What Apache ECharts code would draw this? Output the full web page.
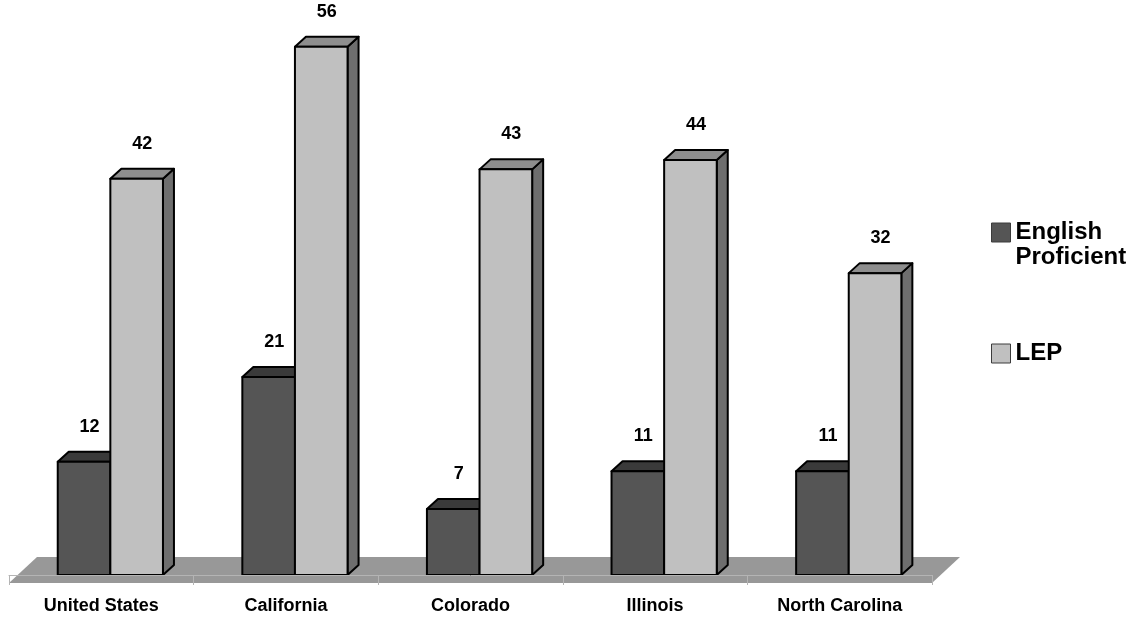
<!DOCTYPE html>
<html>
<head>
<meta charset="utf-8">
<script src="https://cdn.jsdelivr.net/npm/echarts@6/dist/echarts.min.js"></script>
<style>
  html, body { margin: 0; padding: 0; background: #ffffff; }
  #chart { width: 1136px; height: 618px; }
</style>
</head>
<body>
<div id="chart"></div>
<script>
// Share of each group, by state (percent)
const categories = ['United States', 'California', 'Colorado', 'Illinois', 'North Carolina'];
const englishProficient = [12, 21, 7, 11, 11];
const lep = [42, 56, 43, 44, 32];
const seriesNames = ['English Proficient', 'LEP'];

const FONT = '"Liberation Sans", Arial, sans-serif';
const DEPTH_X = 11, DEPTH_Y = -10;   // oblique offset of each bar's back face
const OUTLINE = { stroke: '#000000', lineWidth: 2, lineJoin: 'round' };

// Pseudo-3D bar: front rectangle, top and right-side parallelograms, value label.
function barRenderer(slot, frontFill, topFill, sideFill) {
  return function (params, api) {
    const i = api.value(0);
    const v = api.value(1);
    const base = api.coord([i, 0]);
    const peak = api.coord([i, v]);
    const band = api.size([1, 0])[0];
    const bw = band * 0.285;
    const shift = band * 0.049;
    const x0 = base[0] + shift + (slot === 0 ? -bw : 0);
    const x1 = x0 + bw;
    const yb = base[1];
    const yt = peak[1];
    return {
      type: 'group',
      children: [
        { type: 'polygon',
          shape: { points: [[x1, yb], [x1 + DEPTH_X, yb + DEPTH_Y], [x1 + DEPTH_X, yt + DEPTH_Y], [x1, yt]] },
          style: Object.assign({ fill: sideFill }, OUTLINE) },
        { type: 'polygon',
          shape: { points: [[x0, yt], [x1, yt], [x1 + DEPTH_X, yt + DEPTH_Y], [x0 + DEPTH_X, yt + DEPTH_Y]] },
          style: Object.assign({ fill: topFill }, OUTLINE) },
        { type: 'rect',
          shape: { x: x0, y: yt, width: bw, height: yb - yt },
          style: Object.assign({ fill: frontFill }, OUTLINE) },
        { type: 'text',
          style: { text: String(v), x: x0 + bw / 2 + DEPTH_X / 2, y: yt - 35,
                   align: 'center', verticalAlign: 'middle',
                   font: 'bold 18px ' + FONT, fill: '#000000' } }
      ]
    };
  };
}

// Grey floor the bars stand on, spanning the whole category axis.
function floorRenderer(params) {
  const cs = params.coordSys;
  const yb = cs.y + cs.height;
  const front = yb + 8, back = yb - 18, skew = 28;
  return {
    type: 'polygon',
    shape: { points: [[cs.x, front], [cs.x + cs.width, front], [cs.x + cs.width + skew, back], [cs.x + skew, back]] },
    style: { fill: '#989898' }
  };
}

const chart = echarts.init(document.getElementById('chart'), null, { renderer: 'canvas' });

chart.setOption({
  backgroundColor: '#ffffff',
  animation: false,
  grid: { left: 9, right: 204, top: 9, bottom: 43, containLabel: false },
  xAxis: {
    type: 'category',
    data: categories,
    offset: 8,
    z: 5,
    axisLine: { show: true, lineStyle: { color: '#b4b4b4', width: 1 } },
    axisTick: { show: true, length: 10, lineStyle: { color: '#b4b4b4', width: 1 } },
    axisLabel: { margin: 14, color: '#000000', fontSize: 18, fontWeight: 'bold', fontFamily: FONT },
    splitLine: { show: false }
  },
  yAxis: { type: 'value', min: 0, max: 60, show: false },
  legend: {
    orient: 'vertical',
    left: 991,
    top: 195,
    padding: 0,
    itemGap: 71,
    itemWidth: 19,
    itemHeight: 19,
    icon: 'rect',
    data: seriesNames,
    // leading blank line keeps the first text line level with the swatch
    formatter: function (name) { return name === 'English Proficient' ? '\nEnglish\nProficient' : name; },
    textStyle: { color: '#000000', fontSize: 24, fontWeight: 'bold', fontFamily: FONT, lineHeight: 25 },
    itemStyle: { borderColor: '#3c3c3c', borderWidth: 1 }
  },
  series: [
    { type: 'custom', name: 'floor', silent: true, z: 1, renderItem: floorRenderer, data: [[0, 0]] },
    { type: 'custom', name: seriesNames[0], z: 2, itemStyle: { color: '#555555' },
      renderItem: barRenderer(0, '#555555', '#3a3a3a', '#3a3a3a'),
      data: englishProficient.map(function (v, i) { return [i, v]; }) },
    { type: 'custom', name: seriesNames[1], z: 2, itemStyle: { color: '#c0c0c0' },
      renderItem: barRenderer(1, '#c0c0c0', '#8e8e8e', '#6e6e6e'),
      data: lep.map(function (v, i) { return [i, v]; }) }
  ]
});
</script>
</body>
</html>
